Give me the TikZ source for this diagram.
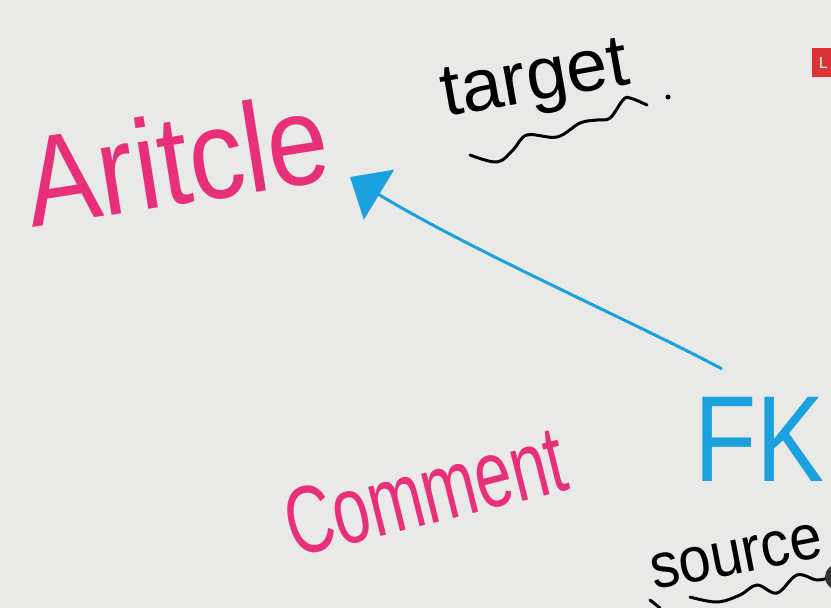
\documentclass[tikz,border=0pt]{standalone}
\usepackage{fontspec}
\setmainfont{Liberation Sans}
\usetikzlibrary{arrows.meta}
\definecolor{bgc}{RGB}{233,233,231}
\definecolor{pinkc}{RGB}{232,48,122}
\definecolor{bluec}{RGB}{27,161,222}
\definecolor{redc}{RGB}{220,52,52}
\begin{document}
\begin{tikzpicture}[x=1pt,y=-1pt,
  word/.style={inner sep=0pt, anchor=base west},
  pinkword/.style={word, text=pinkc},
  blackword/.style={word, text=black},
  blueword/.style={word, text=bluec},
  squiggle/.style={black, line width=3pt, line cap=round, line join=round},
  fkarrow/.style={bluec, line width=3pt, line cap=round, -{Triangle[length=34pt,width=58pt]}}]
\useasboundingbox (0,0) rectangle (831,608);
\fill[bgc] (0,0) rectangle (831,608);
\clip (0,0) rectangle (831,608);

% words
\node[pinkword, font=\fontsize{102}{102}\selectfont, rotate=9] (article) at (32,228) {\scalebox{1.08}[1.25]{Aritcle}};
\node[blackword, font=\fontsize{74}{74}\selectfont, rotate=10] (target) at (445,117) {target};
\node[pinkword, font=\fontsize{66}{66}\selectfont, rotate=14] (comment) at (294,558) {\scalebox{1}[1.45]{Comment}};
\node[blueword, font=\fontsize{102}{102}\selectfont] (fk) at (694,481) {\scalebox{1}[1.2]{FK}};
\node[blackword, font=\fontsize{58}{58}\selectfont, rotate=11] (source) at (654,590) {\scalebox{1}[1.1]{source}};

% squiggly underlines
\draw[squiggle] plot[smooth, tension=0.6] coordinates {(470,155) (497,162) (513,150) (527,135) (557,137) (580,123) (597,120) (610,118) (623,100) (630,98) (647,105)};
\fill (668,97) circle (2.5);
\draw[squiggle] plot[smooth, tension=0.6] coordinates {(690,597) (717,602) (740,595) (757,585) (777,593) (797,575) (817,580) (831,577)};
\draw[squiggle] (650,600) -- (660,608);

% arrow from FK to Aritcle
\coordinate (tip) at (350,177);
\draw[fkarrow] ([shift={(-38,-28)}]fk.north) .. controls (640,325) and (470,250) .. (tip);

% badge and webcam blob
\node[fill=redc, text=white, minimum width=22pt, minimum height=29pt, inner sep=0pt,
      font=\fontsize{16}{16}\selectfont, anchor=north west] (badge) at (812,48) {L};
\fill[black!80] (838,577) circle (13);
\end{tikzpicture}
\end{document}
